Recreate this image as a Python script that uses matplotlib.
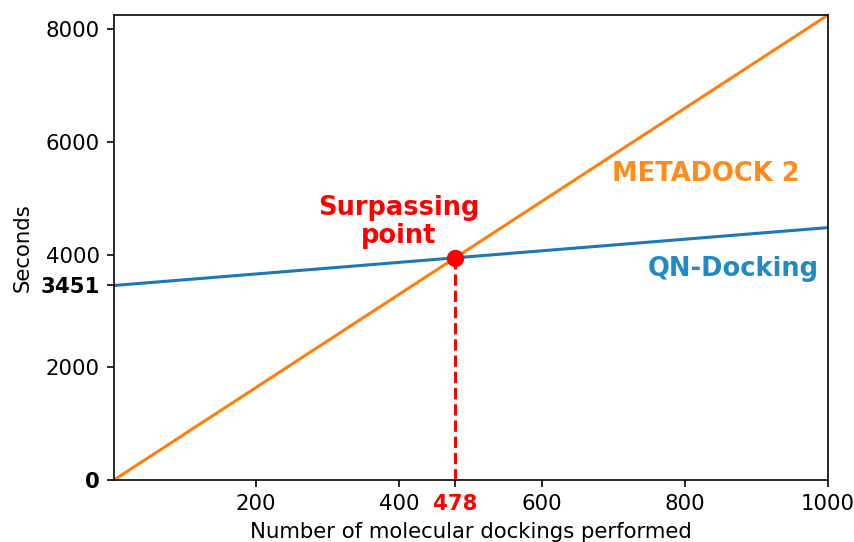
import matplotlib
matplotlib.use("Agg")
import matplotlib.pyplot as plt
import numpy as np

# Data
dockings = [1, 1000]
metadock_seconds = [0, 8250]
qn_seconds = [3451, 4478]
cross_x = 478
cross_y = 3945
x_ticks = [200, 400, 478, 600, 800, 1000]
y_ticks = [0, 2000, 3451, 4000, 6000, 8000]

plt.rcParams["font.size"] = 10.4

DPI = 147
fig = plt.figure(figsize=(854 / DPI, 542 / DPI), dpi=DPI)
ax = fig.add_axes([114 / 854, 1 - 480 / 542, (828 - 114) / 854, (480 - 15) / 542])

ax.plot(dockings, qn_seconds, color="#1f77b4", lw=1.5)
ax.plot(dockings, metadock_seconds, color="#ff7f0e", lw=1.5)
ax.plot([cross_x, cross_x], [0, cross_y], color="red", ls="--", lw=1.5)
ax.plot([cross_x], [cross_y], "o", color="red", ms=7.5, zorder=5)

ax.set_xlim(1, 1000)
ax.set_ylim(0, 8250)
ax.set_xticks(x_ticks)
ax.set_xticklabels([str(t) for t in x_ticks])
ax.set_yticks(y_ticks)
ax.set_yticklabels([str(t) for t in y_ticks])
ax.tick_params(labelsize=10.4)

for lbl in ax.get_xticklabels():
    if lbl.get_text() == "478":
        lbl.set_color("red")
        lbl.set_fontweight("bold")
for lbl in ax.get_yticklabels():
    if lbl.get_text() in ("0", "3451"):
        lbl.set_fontweight("bold")

ax.set_xlabel("Number of molecular dockings performed", fontsize=10.4)
ax.set_ylabel("Seconds", fontsize=10.4)

ax.text(399, 4570, "Surpassing\npoint", color="red", fontweight="bold",
        fontsize=12.6, ha="center", va="center", linespacing=1.1)
ax.text(829, 5430, "METADOCK 2", color="#ff8c1a", fontweight="bold",
        fontsize=12.6, ha="center", va="center")
ax.text(868, 3750, "QN-Docking", color="#1f8ac3", fontweight="bold",
        fontsize=12.6, ha="center", va="center")

fig.savefig("out.png", dpi=DPI)
